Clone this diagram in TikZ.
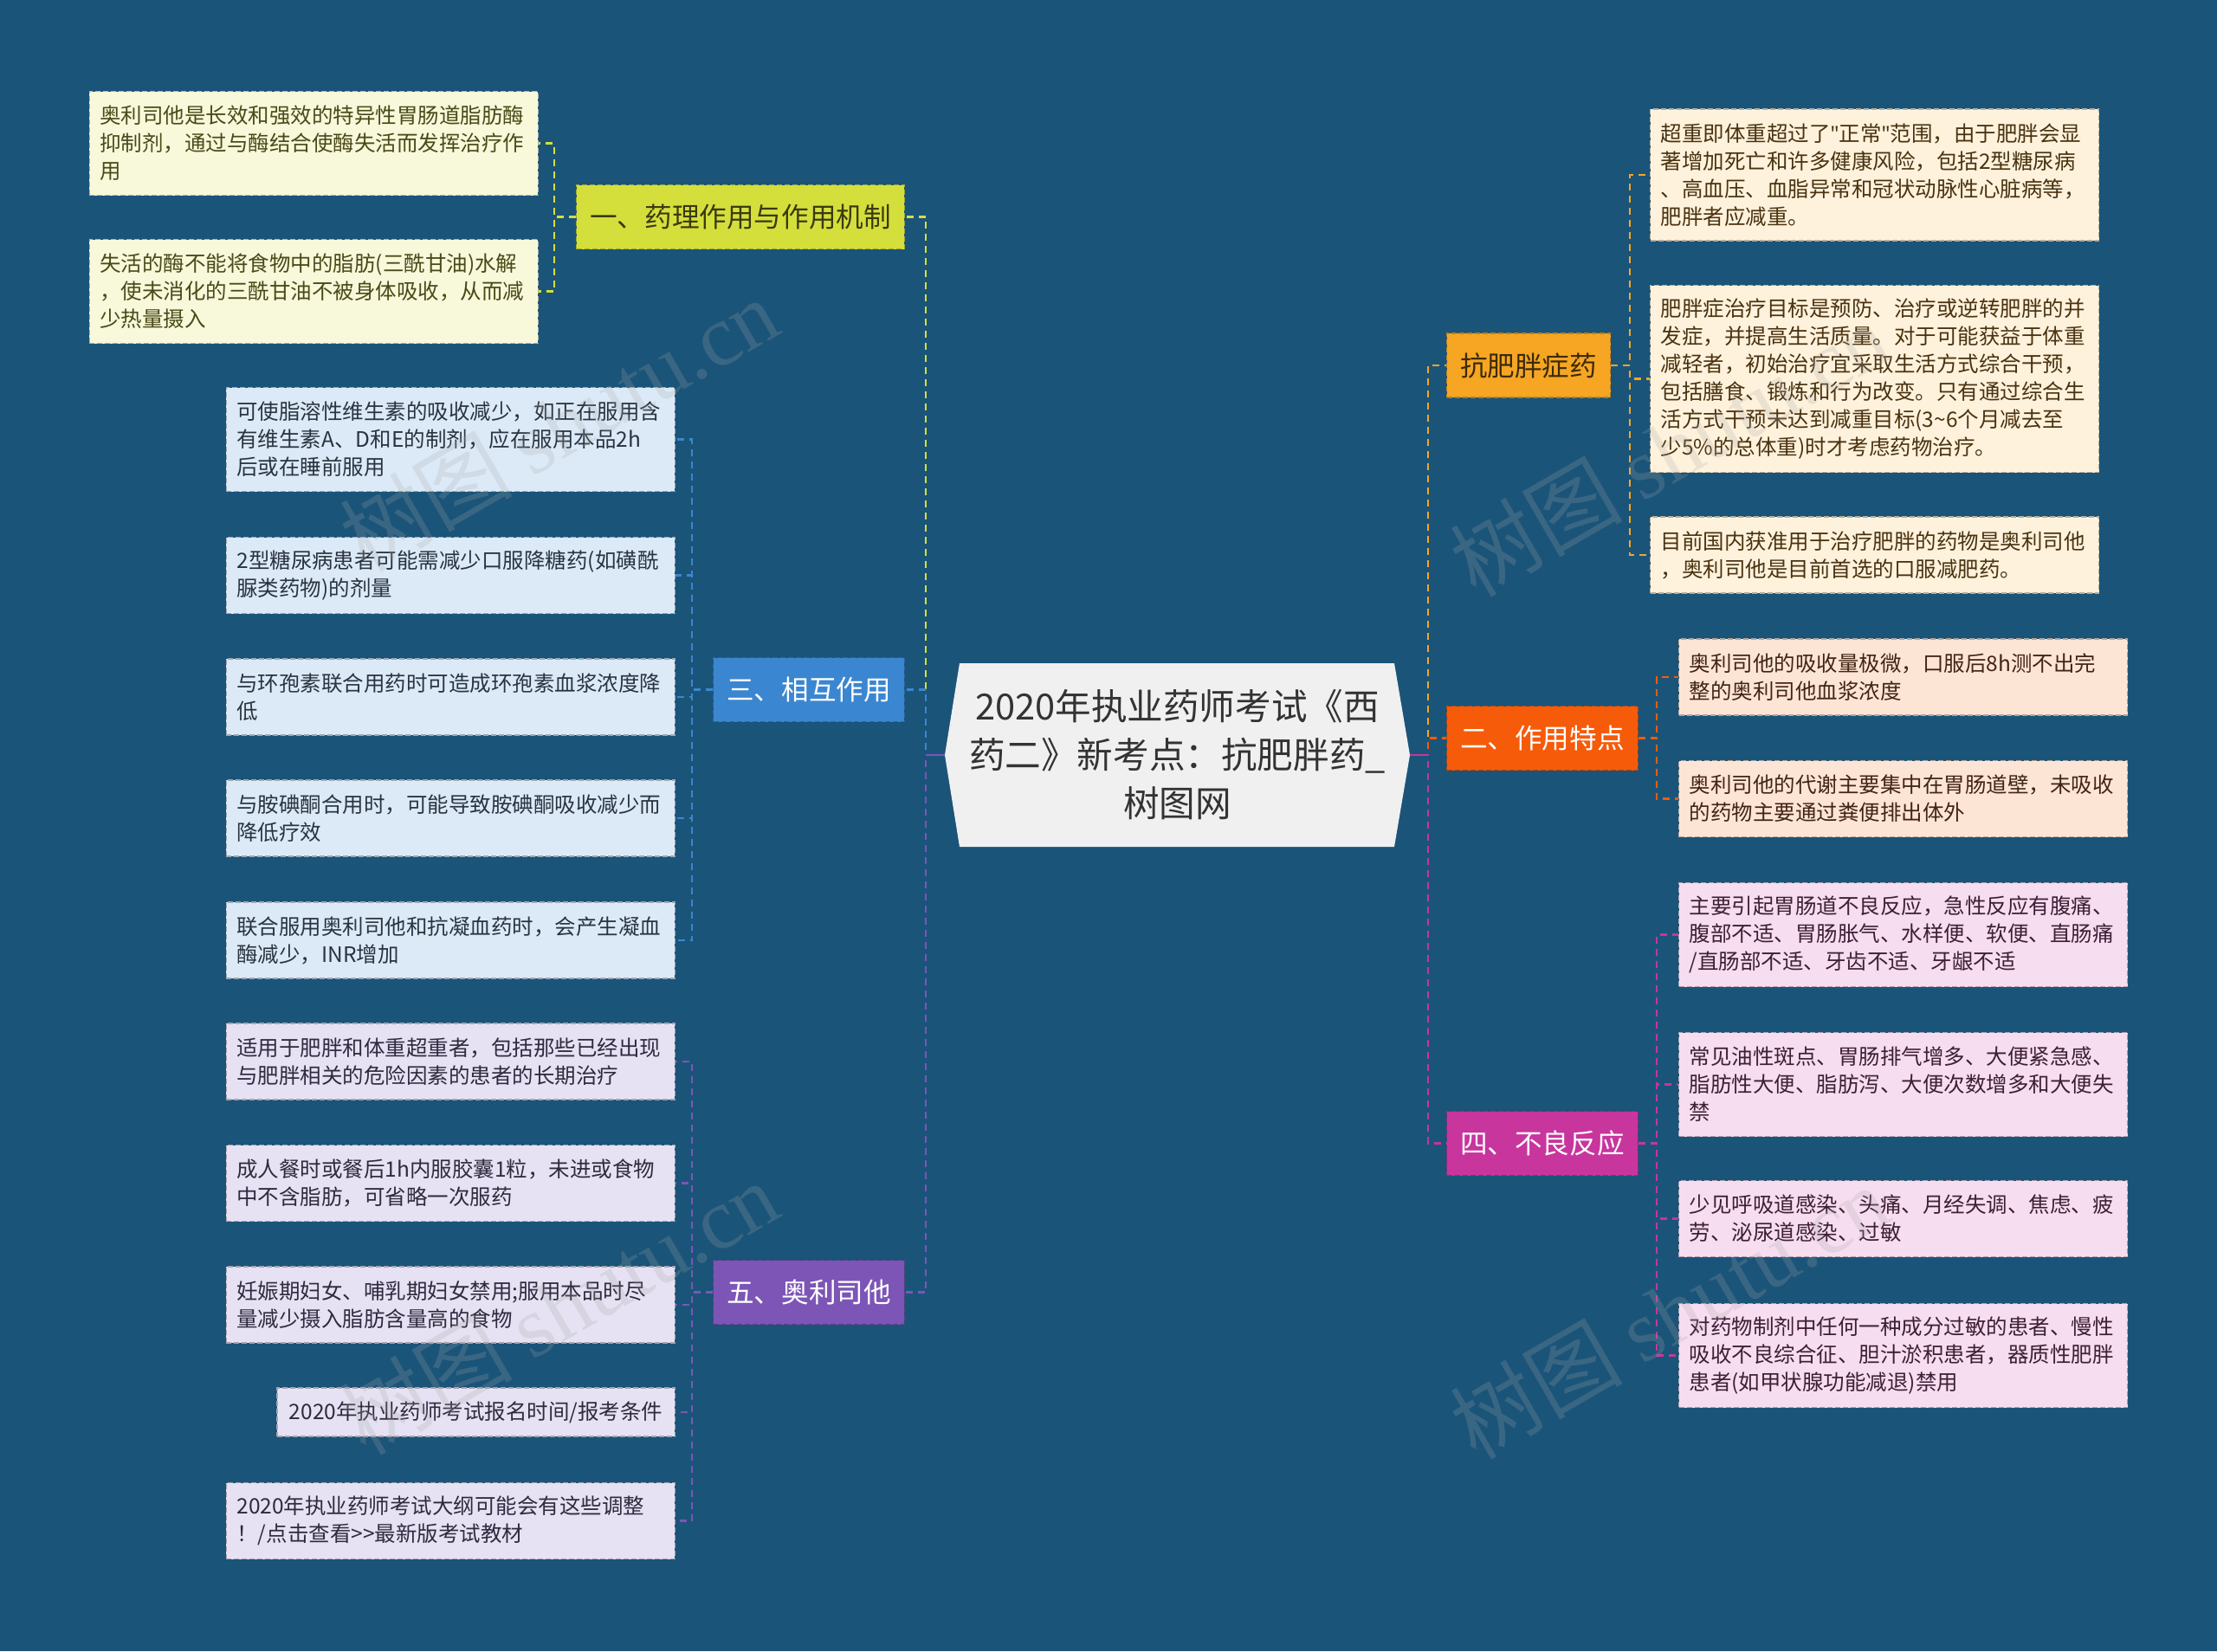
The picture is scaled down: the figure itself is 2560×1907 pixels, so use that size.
\documentclass[tikz,border=0pt]{standalone}
\usepackage{fontspec}
\setmainfont{Noto Sans CJK SC}
\newfontfamily\wmlatin{Liberation Serif}
\newfontfamily\latinfont{Noto Sans}
\newcommand{\sq}{{\latinfont\symbol{34}}}
\definecolor{bg}{HTML}{1B5479}
\definecolor{cfill}{HTML}{F0F0F0}
\definecolor{ctext}{HTML}{333333}
% branch colours
\definecolor{cY}{HTML}{D5DF3C}
\definecolor{cB}{HTML}{3B86D0}
\definecolor{cP}{HTML}{7D55B6}
\definecolor{cO}{HTML}{F6A623}
\definecolor{cR}{HTML}{F65B0A}
\definecolor{cM}{HTML}{C8359D}
% leaf fills
\definecolor{lY}{HTML}{F8F8DB}
\definecolor{lB}{HTML}{DCEAF7}
\definecolor{lP}{HTML}{E6E2F3}
\definecolor{lO}{HTML}{FEF2DC}
\definecolor{lR}{HTML}{FDE5D6}
\definecolor{lM}{HTML}{F6DDEF}
% leaf texts
\definecolor{tY}{HTML}{4A4A18}
\definecolor{tB}{HTML}{2A3440}
\definecolor{tP}{HTML}{2F2A3F}
\definecolor{tO}{HTML}{4A3210}
\definecolor{tR}{HTML}{432414}
\definecolor{tM}{HTML}{3E1F36}
\definecolor{tBr}{HTML}{3A3A10}
\definecolor{tBo}{HTML}{3C2A08}
\tikzset{
  boxline/.style={dash pattern=on 3pt off 1.5pt, line width=0.6pt},
  leafbase/.style={rectangle, boxline, text width=247pt, inner xsep=6pt, inner ysep=0pt,
    align=left, font=\fontsize{12.25pt}{16pt}\selectfont},
  leafY/.style={leafbase, fill=lY, draw=lY!72!black, text=tY},
  leafB/.style={leafbase, fill=lB, draw=lB!72!black, text=tB},
  leafP/.style={leafbase, fill=lP, draw=lP!72!black, text=tP},
  leafO/.style={leafbase, fill=lO, draw=lO!72!black, text=tO},
  leafR/.style={leafbase, fill=lR, draw=lR!72!black, text=tR},
  leafM/.style={leafbase, fill=lM, draw=lM!72!black, text=tM},
  hA/.style={minimum height=28pt},
  hB/.style={minimum height=44pt},
  hC/.style={minimum height=60pt},
  hD/.style={minimum height=76pt},
  hF/.style={minimum height=108pt},
  branch/.style={rectangle, boxline, minimum height=37pt, inner xsep=7.75pt, inner ysep=0pt,
    font=\fontsize{15.8pt}{18pt}\selectfont, fill=#1, draw=#1!75!black},
  conn/.style={line width=1.25pt, dash pattern=on 4pt off 3pt, draw=#1},
  wm/.style={rotate=30, opacity=0.22, text=gray!70, font=\fontsize{50pt}{50pt}\selectfont}
}
\begin{document}
\begin{tikzpicture}[x=0.5pt,y=-0.5pt]
\fill[bg] (0,0) rectangle (2560,1907);
\useasboundingbox (0,0) rectangle (2560,1907);

% central node
\fill[cfill] (1091,872) -- (1108,766) -- (1610,766) -- (1628,872) -- (1610,978) -- (1108,978) -- cycle;
\coordinate (cl) at (1091,872);
\coordinate (cr) at (1628,872);
\node[align=center, text=ctext, font=\fontsize{20.8pt}{28pt}\selectfont] (title) at (1359.5,872)
  {2020年执业药师考试《西\\药二》新考点：抗肥胖药\_\\树图网};

% branch nodes
\node[branch=cY, text=tBr, anchor=east] (b1) at (1045,250.5) {一、药理作用与作用机制};
\node[branch=cB, text=white, anchor=east] (b3) at (1045,796.5) {三、相互作用};
\node[branch=cP, text=white, anchor=east] (b5) at (1045,1492.5) {五、奥利司他};
\node[branch=cO, text=tBo, anchor=west] (bo) at (1670,422) {抗肥胖症药};
\node[branch=cR, text=white, anchor=west] (b2) at (1670,852.5) {二、作用特点};
\node[branch=cM, text=white, anchor=west] (b4) at (1670,1320.5) {四、不良反应};

% left leaves: branch 1
\node[leafY, hC, anchor=east] (y1) at (622,165.5) {奥利司他是长效和强效的特异性胃肠道脂肪酶\\抑制剂，通过与酶结合使酶失活而发挥治疗作\\用};
\node[leafY, hC, anchor=east] (y2) at (622,336.5) {失活的酶不能将食物中的脂肪(三酰甘油)水解\\，使未消化的三酰甘油不被身体吸收，从而减\\少热量摄入};

% branch 3
\node[leafB, hC, anchor=east] (u1) at (780,507.5) {可使脂溶性维生素的吸收减少，如正在服用含\\有维生素A、D和E的制剂，应在服用本品2h\\后或在睡前服用};
\node[leafB, hB, anchor=east] (u2) at (780,664.5) {2型糖尿病患者可能需减少口服降糖药(如磺酰\\脲类药物)的剂量};
\node[leafB, hB, anchor=east] (u3) at (780,805) {与环孢素联合用药时可造成环孢素血浆浓度降\\低};
\node[leafB, hB, anchor=east] (u4) at (780,945) {与胺碘酮合用时，可能导致胺碘酮吸收减少而\\降低疗效};
\node[leafB, hB, anchor=east] (u5) at (780,1086) {联合服用奥利司他和抗凝血药时，会产生凝血\\酶减少，INR增加};

% branch 5
\node[leafP, hB, anchor=east] (p1) at (780,1226) {适用于肥胖和体重超重者，包括那些已经出现\\与肥胖相关的危险因素的患者的长期治疗};
\node[leafP, hB, anchor=east] (p2) at (780,1366.5) {成人餐时或餐后1h内服胶囊1粒，未进或食物\\中不含脂肪，可省略一次服药};
\node[leafP, hB, anchor=east] (p3) at (780,1507) {妊娠期妇女、哺乳期妇女禁用;服用本品时尽\\量减少摄入脂肪含量高的食物};
\node[leafP, hA, text width=, anchor=east, inner xsep=7pt] (p4) at (780,1631) {2020年执业药师考试报名时间/报考条件};
\node[leafP, hB, anchor=east] (p5) at (780,1756.5) {2020年执业药师考试大纲可能会有这些调整\\！/点击查看>{}>最新版考试教材};

% right: 抗肥胖症药
\node[leafO, hD, anchor=west] (o1) at (1905,202) {超重即体重超过了\sq 正常\sq 范围，由于肥胖会显\\著增加死亡和许多健康风险，包括2型糖尿病\\、高血压、血脂异常和冠状动脉性心脏病等，\\肥胖者应减重。};
\node[leafO, hF, anchor=west] (o2) at (1905,437.5) {肥胖症治疗目标是预防、治疗或逆转肥胖的并\\发症，并提高生活质量。对于可能获益于体重\\减轻者，初始治疗宜采取生活方式综合干预，\\包括膳食、锻炼和行为改变。只有通过综合生\\活方式干预未达到减重目标(3\textasciitilde6个月减去至\\少5\%的总体重)时才考虑药物治疗。};
\node[leafO, hB, anchor=west] (o3) at (1905,641) {目前国内获准用于治疗肥胖的药物是奥利司他\\，奥利司他是目前首选的口服减肥药。};

% 二、作用特点
\node[leafR, hB, anchor=west] (r1) at (1938,782) {奥利司他的吸收量极微，口服后8h测不出完\\整的奥利司他血浆浓度};
\node[leafR, hB, anchor=west] (r2) at (1938,922.5) {奥利司他的代谢主要集中在胃肠道壁，未吸收\\的药物主要通过粪便排出体外};

% 四、不良反应
\node[leafM, hC, anchor=west] (m1) at (1938,1079.5) {主要引起胃肠道不良反应，急性反应有腹痛、\\腹部不适、胃肠胀气、水样便、软便、直肠痛\\/直肠部不适、牙齿不适、牙龈不适};
\node[leafM, hC, anchor=west] (m2) at (1938,1252.5) {常见油性斑点、胃肠排气增多、大便紧急感、\\脂肪性大便、脂肪泻、大便次数增多和大便失\\禁};
\node[leafM, hB, anchor=west] (m3) at (1938,1407.5) {少见呼吸道感染、头痛、月经失调、焦虑、疲\\劳、泌尿道感染、过敏};
\node[leafM, hC, anchor=west] (m4) at (1938,1565.5) {对药物制剂中任何一种成分过敏的患者、慢性\\吸收不良综合征、胆汁淤积患者，器质性肥胖\\患者(如甲状腺功能减退)禁用};

% connectors: centre to branches
\draw[conn=cY] (cl) -- ++(-22,0) |- (b1.east);
\draw[conn=cB] (cl) -- ++(-22,0) |- (b3.east);
\draw[conn=cP] (cl) -- ++(-22,0) |- (b5.east);
\draw[cP, line width=1.25pt] (cl) -- ++(-22,0);
\draw[conn=cO] (cr) -- ++(21,0) |- (bo.west);
\draw[conn=cR] (cr) -- ++(21,0) |- (b2.west);
\draw[conn=cM] (cr) -- ++(21,0) |- (b4.west);
\draw[cM, line width=1.25pt] (cr) -- ++(21,0);

% branch to leaves
\foreach \c in {y1,y2} \draw[conn=cY] (b1.west) -- ++(-25,0) |- (\c.east);
\foreach \c in {u1,u2,u3,u4,u5} \draw[conn=cB] (b3.west) -- ++(-24,0) |- (\c.east);
\foreach \c in {p1,p2,p3,p4,p5} \draw[conn=cP] (b5.west) -- ++(-24,0) |- (\c.east);
\foreach \c in {o1,o2,o3} \draw[conn=cO] (bo.east) -- ++(22,0) |- (\c.west);
\foreach \c in {r1,r2} \draw[conn=cR] (b2.east) -- ++(21,0) |- (\c.west);
\foreach \c in {m1,m2,m3,m4} \draw[conn=cM] (b4.east) -- ++(21,0) |- (\c.west);

% watermarks
\node[wm] (w1) at (645,490) {树图 {\wmlatin shutu.cn}};
\node[wm] (w2) at (645,1510) {树图 {\wmlatin shutu.cn}};
\node[wm] (w3) at (1927,519) {树图 {\wmlatin shutu.cn}};
\node[wm] (w4) at (1927,1515) {树图 {\wmlatin shutu.cn}};
\end{tikzpicture}
\end{document}
